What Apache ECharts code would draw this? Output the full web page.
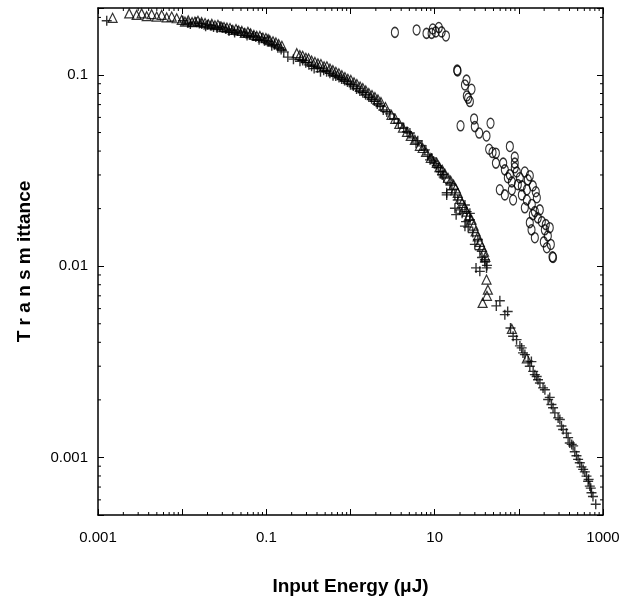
<!DOCTYPE html>
<html>
<head>
<meta charset="utf-8">
<script src="https://cdn.jsdelivr.net/npm/echarts@6/dist/echarts.min.js"></script>
<style>
html,body{margin:0;padding:0;background:#fff;}
#chart{width:629px;height:601px;}
</style>
</head>
<body>
<div id="chart"></div>
<script>
// ---- data (Input Energy in µJ, Transmittance) ----
const crosses = [
  [0.00127,0.192],[0.0102,0.192],[0.0117,0.187],[0.0146,0.189],[0.0171,0.185],[0.0201,0.183],
  [0.0236,0.178],[0.0281,0.180],[0.0330,0.174],[0.0388,0.172],[0.0455,0.170],[0.0544,0.166],
  [0.0638,0.164],[0.0750,0.158],[0.0880,0.156],[0.105,0.150],[0.116,0.142],[0.137,0.139],
  [0.161,0.132],[0.180,0.124],[0.251,0.118],[0.294,0.116],[0.345,0.111],[0.405,0.109],
  [0.480,0.106],[0.569,0.102],[0.668,0.0988],[0.784,0.0953],[0.920,0.0920],[1.08,0.0877],
  [1.29,0.0825],[1.51,0.0787],[1.78,0.0750],[2.08,0.0705],[2.45,0.0656],[2.94,0.0626],
  [4.29,0.0529],[5.08,0.0497],[5.50,0.0469],[6.30,0.0453],[7.04,0.0426],[7.65,0.0406],
  [8.30,0.0382],[9.25,0.0368],[10.1,0.0344],[11.1,0.0327],[11.8,0.0312],[12.8,0.0293],
  [13.9,0.0242],[15.2,0.0270],[16.0,0.0251],[17.4,0.0236],[18.8,0.0222],[19.9,0.0197],
  [21.2,0.0189],[22.9,0.0209],[23.6,0.0171],[25.0,0.0160],[26.2,0.0189],[28.4,0.0150],
  [30.0,0.0130],[32.6,0.0138],[34.4,0.0122],[36.5,0.0111],[39.5,0.0105],[41.8,0.0101],
  [13.9,0.0236],[17.4,0.0201],[18.0,0.0186],[24.0,0.0193],[22.9,0.0162],[26.2,0.0175],
  [31.0,0.0098],[39.5,0.0108],[34.4,0.0094],[41.3,0.0098],
  [0.0125,0.185],[0.0160,0.186],[0.0190,0.180],[0.0220,0.181],[0.0260,0.176],[0.0300,0.177],
  [0.0360,0.170],[0.0420,0.167],[0.0500,0.168],[0.0590,0.161],[0.0700,0.160],[0.0820,0.153],
  [0.0950,0.151],[0.125,0.144],[0.150,0.136],[0.210,0.121],[0.270,0.119],[0.320,0.113],
  [0.370,0.108],[0.440,0.104],[0.520,0.104],[0.620,0.099],[0.730,0.097],[0.850,0.0935],
  [1.00,0.0890],[1.18,0.0845],[1.40,0.0808],[1.65,0.0768],[1.92,0.0730],[2.25,0.0690],
  [2.70,0.0640],[3.30,0.0590],[3.70,0.0560],[4.70,0.0505],[6.00,0.0440],[8.80,0.0360],
  [9.70,0.0355],[10.6,0.0335],[12.3,0.0300],
  [54.0,0.0062],[59.5,0.0066],[68.2,0.00558],[73.7,0.0058],[79.6,0.00475],[85.5,0.0043],
  [94.0,0.00413],[103,0.00383],[108,0.00374],[112,0.00352],[118,0.00345],[129,0.00319],
  [135,0.00300],[141,0.00317],[148,0.00282],[155,0.00271],[163,0.00265],[169,0.00255],
  [178,0.00245],[194,0.00231],[204,0.00226],[223,0.00201],[233,0.00206],[244,0.00189],
  [255,0.00182],[268,0.00171],[293,0.00161],[307,0.00158],[321,0.00146],[336,0.00140],
  [368,0.00134],[385,0.00127],[403,0.00119],[425,0.00117],[442,0.00115],[462,0.00107],
  [484,0.00102],[506,0.000977],[530,0.000938],[555,0.000893],[581,0.000866],[608,0.000840],
  [637,0.000798],[666,0.000751],[675,0.000768],[697,0.000708],[716,0.000691],[730,0.000654],
  [760,0.000625],[820,0.000569]
];
const triangles = [
  [0.00149,0.199],[0.00235,0.210],[0.00288,0.206],[0.00330,0.210],[0.00379,0.203],[0.00434,0.208],
  [0.00498,0.202],[0.00571,0.206],[0.00655,0.200],[0.00751,0.202],[0.00861,0.198],[0.00988,0.194],
  [0.0108,0.190],[0.0131,0.189],[0.0154,0.192],[0.0187,0.187],[0.0225,0.185],[0.0266,0.183],
  [0.0314,0.178],[0.0370,0.176],[0.0436,0.174],[0.0512,0.170],[0.0604,0.168],[0.0712,0.162],
  [0.0839,0.160],[0.0988,0.156],[0.110,0.152],[0.130,0.148],[0.153,0.142],[0.230,0.130],
  [0.270,0.126],[0.318,0.122],[0.378,0.117],[0.445,0.114],[0.524,0.111],[0.617,0.106],
  [0.727,0.102],[0.858,0.0976],[1.01,0.0942],[1.19,0.0897],[1.40,0.0855],[1.65,0.0805],
  [1.95,0.0767],[2.30,0.0722],[3.07,0.0618],[3.80,0.0555],[4.69,0.0504],[5.82,0.0458],
  [6.67,0.0426],[7.90,0.0396],[9.00,0.0368],[10.6,0.0347],[12.3,0.0319],[14.4,0.0290],
  [16.8,0.0267],[18.8,0.0242],[21.2,0.0214],[24.1,0.0193],[27.4,0.0175],[30.7,0.0152],
  [34.4,0.0134],[38.6,0.0119],[41.3,0.00851],[42.9,0.00754],[37.1,0.00643],[41.8,0.0070],
  [0.0118,0.193],[0.0142,0.190],[0.0170,0.189],[0.0205,0.184],[0.0245,0.182],[0.0290,0.179],
  [0.0340,0.177],[0.0400,0.172],[0.0470,0.171],[0.0555,0.166],[0.0650,0.165],[0.0770,0.160],
  [0.0910,0.157],[0.105,0.154],[0.120,0.150],[0.140,0.145],[0.250,0.127],[0.295,0.123],
  [0.345,0.119],[0.410,0.115],[0.485,0.111],[0.570,0.108],[0.670,0.104],[0.790,0.0998],
  [0.930,0.0955],[1.10,0.0915],[1.30,0.0870],[1.52,0.0830],[1.80,0.0785],[2.12,0.0745],
  [2.60,0.0680],[3.40,0.0590],[4.20,0.0530],[5.20,0.0480],[7.20,0.0415],[11.4,0.0330],
  [13.2,0.0305],[15.5,0.0280],[17.8,0.0255],[20.0,0.0225],[22.6,0.0203],[25.5,0.0183],
  [29.0,0.0163],[32.5,0.0143],[36.5,0.0126],[40.0,0.0112],
  [82.6,0.0047],[124.5,0.0033]
];
const circles = [
  [3.37,0.167],[6.1,0.172],[8.0,0.165],[9.2,0.165],[10.3,0.168],[11.2,0.177],[9.5,0.174],
  [12.1,0.168],[13.6,0.160],[18.5,0.106],[18.7,0.105],[23.9,0.094],[22.9,0.0887],[27.4,0.0842],
  [25.0,0.0755],[26.2,0.0726],[24.1,0.0777],[29.4,0.0589],[20.3,0.0542],[30.0,0.0537],
  [46.1,0.0559],[33.8,0.0497],[41.3,0.0480],[44.4,0.0409],[48.7,0.0393],[53.4,0.0390],
  [78.2,0.0423],[53.4,0.0346],[89.5,0.0372],[89.5,0.0346],[65.2,0.0346],[68.2,0.0319],
  [78.2,0.0301],[89.5,0.0327],[102.8,0.0290],[117.8,0.0311],[82.6,0.0276],[97.3,0.0267],
  [128,0.0283],[74,0.0290],[108.6,0.0263],[135,0.0297],[146.6,0.0263],[85.5,0.0222],
  [108.6,0.0236],[124.5,0.0222],[142.6,0.0210],[163.7,0.0228],[177.5,0.0197],[117.8,0.0202],
  [155,0.0193],[135,0.0169],[141.5,0.0155],[155,0.0141],[187.5,0.0171],[203.6,0.0155],
  [221,0.0144],[233,0.0159],[198,0.0134],[240,0.0130],[215,0.0125],[251,0.0112],[255,0.0111],
  [59.4,0.0251],[68.2,0.0236],[82.6,0.0251],[94.6,0.0311],[124.5,0.0251],[159,0.0245],
  [168,0.0179],[146.6,0.0186],[209,0.0165]
];
const xRange = [0.001, 1000];
const yRange = [0.0005, 0.224];
const xTickLabels = {'-3':'0.001','-1':'0.1','1':'10','3':'1000'};
const yTickLabels = {'-3':'0.001','-2':'0.01','-1':'0.1'};
const minorMultipliers = [2,3,4,5,6,7,8,9];
const xDecades = [-3,-2,-1,0,1,2];
const yDecades = [-4,-3,-2,-1];

const xMinor = [];
xDecades.forEach(e => minorMultipliers.forEach(m => {
  const v = m * Math.pow(10, e);
  if (v > xRange[0] && v < xRange[1]) xMinor.push([v, yRange[0]]);
}));
const yMinor = [];
yDecades.forEach(e => minorMultipliers.forEach(m => {
  const v = m * Math.pow(10, e);
  if (v > yRange[0] && v < yRange[1]) yMinor.push([xRange[0], v]);
}));

function labelFor(map) {
  return function (v) {
    const l = Math.log10(v);
    const r = Math.round(l);
    if (Math.abs(l - r) < 1e-6 && map[String(r)] !== undefined) return map[String(r)];
    return '';
  };
}

const tickFont = "'Liberation Sans Narrow','Arial Narrow','Liberation Sans',Arial,sans-serif";
const lineStyle = {color:'#000', width:1.5};
const MINOR_LEN = 3;

const chart = echarts.init(document.getElementById('chart'), null, {renderer:'canvas'});
chart.setOption({
  animation: false,
  backgroundColor: '#fff',
  grid: {left: 98, right: 26, top: 8, bottom: 86},
  xAxis: [{
    type: 'log', logBase: 10, min: xRange[0], max: xRange[1], position: 'bottom',
    axisLine: {show: true, onZero: false, lineStyle: lineStyle},
    axisTick: {show: true, inside: true, length: 6, lineStyle: {color:'#000', width:1}},
    axisLabel: {show: true, margin: 15, color:'#000', fontSize: 15, fontFamily: tickFont, formatter: labelFor(xTickLabels)},
    splitLine: {show: false},
    name: 'Input Energy (\u03bcJ)', nameLocation: 'middle', nameGap: 62,
    nameTextStyle: {color:'#000', fontSize: 19, fontWeight: 'bold', fontFamily: tickFont}
  }, {
    type: 'log', logBase: 10, min: xRange[0], max: xRange[1], position: 'top',
    axisLine: {show: true, onZero: false, lineStyle: lineStyle},
    axisTick: {show: true, inside: true, length: 6, lineStyle: {color:'#000', width:1}},
    axisLabel: {show: false}, splitLine: {show: false}
  }],
  yAxis: [{
    type: 'log', logBase: 10, min: yRange[0], max: yRange[1], position: 'left',
    axisLine: {show: true, onZero: false, lineStyle: lineStyle},
    axisTick: {show: true, inside: true, length: 6, lineStyle: {color:'#000', width:1}},
    axisLabel: {show: true, margin: 10, color:'#000', fontSize: 15, fontFamily: tickFont, formatter: labelFor(yTickLabels)},
    splitLine: {show: false},
    name: 'T r a n s m ittance', nameLocation: 'middle', nameGap: 64, nameRotate: 90,
    nameTextStyle: {color:'#000', fontSize: 19, fontWeight: 'bold', fontFamily: tickFont}
  }, {
    type: 'log', logBase: 10, min: yRange[0], max: yRange[1], position: 'right',
    axisLine: {show: true, onZero: false, lineStyle: lineStyle},
    axisTick: {show: true, inside: true, length: 6, lineStyle: {color:'#000', width:1}},
    axisLabel: {show: false}, splitLine: {show: false}
  }],
  series: [
    {
      type: 'custom', name: 'xMinor', xAxisIndex: 0, yAxisIndex: 0, silent: true, clip: false,
      data: xMinor,
      renderItem: function (params, api) {
        const v = api.value(0);
        const b = api.coord([v, yRange[0]]);
        const t = api.coord([v, yRange[1]]);
        return {type: 'group', children: [
          {type:'line', shape:{x1:b[0], y1:b[1], x2:b[0], y2:b[1]-MINOR_LEN}, style:{stroke:'#000', lineWidth:1}},
          {type:'line', shape:{x1:t[0], y1:t[1], x2:t[0], y2:t[1]+MINOR_LEN}, style:{stroke:'#000', lineWidth:1}}
        ]};
      }
    },
    {
      type: 'custom', name: 'yMinor', xAxisIndex: 0, yAxisIndex: 0, silent: true, clip: false,
      data: yMinor,
      renderItem: function (params, api) {
        const v = api.value(1);
        const l = api.coord([xRange[0], v]);
        const r = api.coord([xRange[1], v]);
        return {type: 'group', children: [
          {type:'line', shape:{x1:l[0], y1:l[1], x2:l[0]+MINOR_LEN, y2:l[1]}, style:{stroke:'#000', lineWidth:1}},
          {type:'line', shape:{x1:r[0], y1:r[1], x2:r[0]-MINOR_LEN, y2:r[1]}, style:{stroke:'#000', lineWidth:1}}
        ]};
      }
    },
    {
      type: 'scatter', name: 'cross', data: crosses,
      symbol: 'path://M0,5L10,5M5,0L5,10', symbolSize: 10,
      itemStyle: {color: 'none', borderColor: '#000', borderWidth: 1.4}
    },
    {
      type: 'scatter', name: 'triangle', data: triangles,
      symbol: 'triangle', symbolSize: [9, 9],
      itemStyle: {color: 'none', borderColor: '#000', borderWidth: 1.2}
    },
    {
      type: 'scatter', name: 'circle', data: circles,
      symbol: 'circle', symbolSize: [7, 10],
      itemStyle: {color: 'none', borderColor: '#000', borderWidth: 1.3}
    }
  ]
});
</script>
</body>
</html>
